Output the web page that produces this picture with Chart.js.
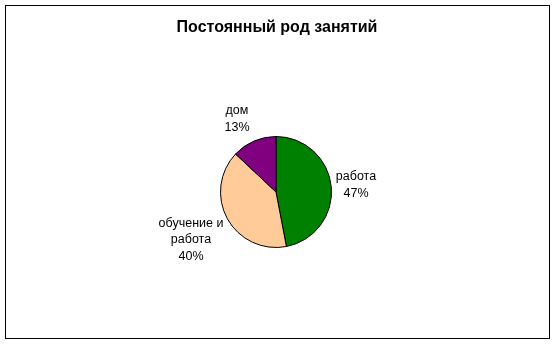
<!DOCTYPE html>
<html>
<head>
<meta charset="utf-8">
<script src="https://cdn.jsdelivr.net/npm/chart.js@4"></script>
<style>
  html, body { margin: 0; padding: 0; background: #fff; }
  #wrap { width: 555px; height: 344px; }
</style>
</head>
<body>
<div id="wrap"><canvas id="chart"></canvas></div>
<script>
const chartTitle = 'Постоянный род занятий';
const categories = ['работа', 'обучение и работа', 'дом'];
const shares = [47, 40, 13];
const labelLines = [['работа', '47%'], ['обучение и', 'работа', '40%'], ['дом', '13%']];
const sliceColors = ['#008000', '#FFCC99', '#800080'];

// label centre offsets from the pie centre (px)
const labelOffsets = [[80, -7], [-85, 48], [-39, -73]];

const framePlugin = {
    id: 'frame',
    beforeDraw(chart) {
        const ctx = chart.ctx;
        ctx.save();
        ctx.fillStyle = '#fff';
        ctx.fillRect(0, 0, chart.width, chart.height);
        ctx.strokeStyle = '#000';
        ctx.lineWidth = 1;
        ctx.strokeRect(5.5, 5.5, 544, 333);
        ctx.restore();
    },
    afterDraw(chart) {
        const ctx = chart.ctx;
        ctx.save();
        ctx.fillStyle = '#000';
        ctx.textAlign = 'center';
        ctx.textBaseline = 'middle';
        ctx.font = 'bold 16px "Liberation Sans", Arial, sans-serif';
        ctx.fillText(chartTitle, 277, 28);

        ctx.font = '12.5px "Liberation Sans", Arial, sans-serif';
        const arcs = chart.getDatasetMeta(0).data;
        arcs.forEach((arc, i) => {
            const lines = labelLines[i];
            const cx = arc.x + labelOffsets[i][0];
            const cy = arc.y + labelOffsets[i][1];
            const top = cy - (lines.length - 1) * 16.5 / 2;
            lines.forEach((line, j) => {
                ctx.fillText(line, cx, top + j * 16.5);
            });
        });
        ctx.restore();
    }
};

new Chart(document.getElementById('chart'), {
    type: 'pie',
    data: {
        labels: categories,
        datasets: [{
            data: shares,
            backgroundColor: sliceColors,
            borderColor: '#000',
            borderWidth: 1
        }]
    },
    options: {
        responsive: true,
        maintainAspectRatio: false,
        animation: false,
        layout: {
            padding: { left: 220, right: 223, top: 136, bottom: 96 }
        },
        plugins: {
            legend: { display: false },
            title: { display: false },
            tooltip: { enabled: false }
        }
    },
    plugins: [framePlugin]
});
</script>
</body>
</html>
